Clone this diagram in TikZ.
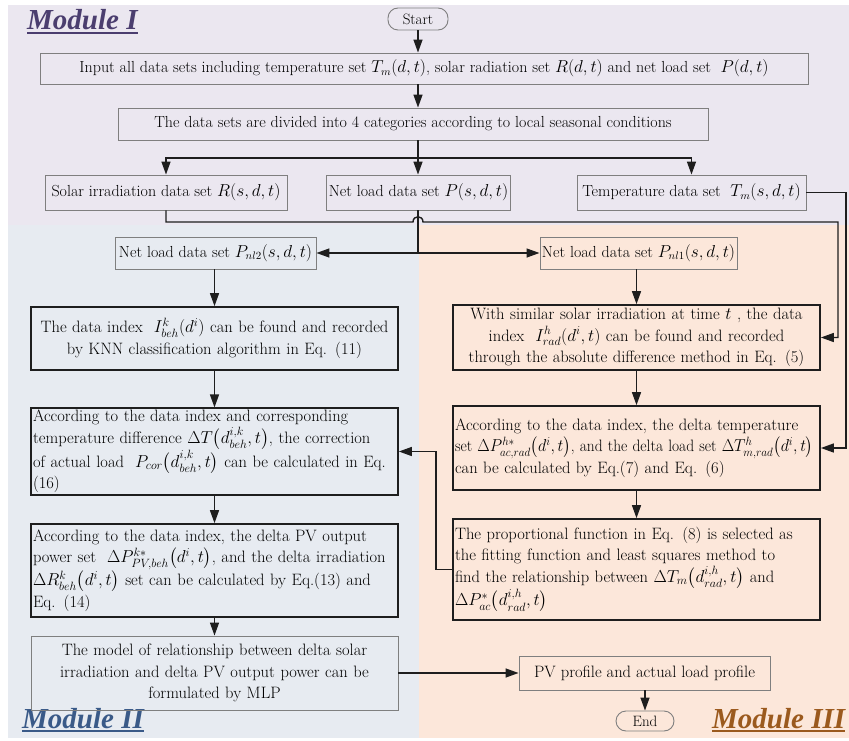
\documentclass[tikz,border=0pt]{standalone}
\usepackage{fontspec}
\usepackage{amsmath}
\usepackage{graphicx}
\newfontfamily\modfont{Liberation Serif}
\usetikzlibrary{arrows.meta}
\definecolor{bgI}{HTML}{EBE7F0}
\definecolor{bgII}{HTML}{E7EBF1}
\definecolor{bgIII}{HTML}{FCE7DA}
\definecolor{colI}{HTML}{4B3E6F}
\definecolor{colII}{HTML}{3A5A88}
\definecolor{colIII}{HTML}{9B5A1E}
\definecolor{thinc}{HTML}{7F7F7F}
\definecolor{linec}{HTML}{1E1E1E}
\begin{document}
\begin{tikzpicture}[x=1pt,y=-1pt,
  thinbox/.style={draw=thinc, line width=0.9pt, inner sep=2pt, align=center, font=\fontsize{16}{19}\selectfont},
  bigthin/.style={draw=thinc, line width=0.9pt, inner sep=2pt, font=\fontsize{16.5}{21.5}\selectfont},
  thickbox/.style={draw=linec, line width=1.7pt, inner sep=2pt, font=\fontsize{16.5}{21.5}\selectfont},
  ovalbox/.style={draw=thinc, line width=0.9pt, rounded corners=10pt, inner sep=1pt, font=\fontsize{15}{17}\selectfont},
  conn/.style={draw=linec, line width=1.4pt},
  arr/.style={conn, -{Triangle[length=13pt,width=9pt]}},
  modlabel/.style={inner sep=0pt, font=\modfont\bfseries\itshape\fontsize{29}{32}\selectfont}]
\useasboundingbox (0,0) rectangle (849,741);
\fill[white] (0,0) rectangle (849,741);
\fill[bgI] (8,5) rectangle (849,225);
\fill[bgII] (8,225) rectangle (419,738);
\fill[bgIII] (419,225) rectangle (849,738);

% module labels
\node[modlabel, text=colI, anchor=base west] (m1) at (27,30) {Module I};
\draw[colI, line width=2pt] ([yshift=-3pt]m1.base west) -- ([yshift=-3pt]m1.base east);
\node[modlabel, text=colII, anchor=base west] (m2) at (22,728) {Module II};
\draw[colII, line width=2pt] ([yshift=-3pt]m2.base west) -- ([yshift=-3pt]m2.base east);
\node[modlabel, text=colIII, anchor=base west] (m3) at (712,728) {Module III};
\draw[colIII, line width=2pt] ([yshift=-3pt]m3.base west) -- ([yshift=-3pt]m3.base east);

% Module I
\node[ovalbox, minimum width=60pt, minimum height=22pt] (start) at (418,19) {Start};
\node[thinbox, minimum width=768pt, minimum height=31pt] (input) at (424,68.5)
  {Input all data sets including temperature set $T_m(d,t)$, solar radiation set $R(d,t)$ and net load set \ $P(d,t)$};
\node[thinbox, minimum width=590pt, minimum height=32pt] (divide) at (413,124)
  {The data sets are divided into 4 categories according to local seasonal conditions};
\node[thinbox, minimum width=242pt, minimum height=35pt] (solar) at (166,192.5)
  {Solar irradiation data set $R(s,d,t)$};
\node[thinbox, minimum width=183pt, minimum height=35pt] (netp) at (418.5,192.5)
  {Net load data set $P(s,d,t)$};
\node[thinbox, minimum width=229pt, minimum height=35pt] (temp) at (691.5,192.5)
  {Temperature data set \ $T_m(s,d,t)$};
\node[thinbox, minimum width=201pt, minimum height=32pt] (pnl2) at (215.5,253)
  {Net load data set $P_{nl2}(s,d,t)$};
\node[thinbox, minimum width=195pt, minimum height=32pt] (pnl1) at (638.5,253)
  {Net load data set $P_{nl1}(s,d,t)$};

% Module II
\node[thickbox, minimum width=367pt, minimum height=63pt, text width=363pt, align=center] (knn) at (214.5,338.5)
  {The data index \ $I_{beh}^{k}(d^{i})$ can be found and recorded\\ by KNN classification algorithm in Eq. (11)};
\node[thickbox, minimum width=367pt, minimum height=79pt, text width=363pt, align=left] (dt) at (214.5,451.5)
  {According to the data index and corresponding\\ temperature difference $\Delta T\bigl(d_{beh}^{i,k},t\bigr)$, the correction\\ of actual load \ $P_{cor}\bigl(d_{beh}^{i,k},t\bigr)$ can be calculated in Eq.\\ (16)};
\node[thickbox, minimum width=367pt, minimum height=93pt, text width=363pt, align=left] (dpv) at (214.5,570.5)
  {According to the data index, the delta PV output\\ power set \ $\Delta P_{PV,beh}^{k*}\bigl(d^{i},t\bigr)$, and the delta irradiation\\ $\Delta R_{beh}^{k}\bigl(d^{i},t\bigr)$ set can be calculated by Eq.(13) and\\ Eq. (14)};
\node[bigthin, minimum width=367pt, minimum height=74pt, text width=363pt, align=center] (mlp) at (214.5,673)
  {The model of relationship between delta solar\\ irradiation and delta PV output power can be\\ formulated by MLP};

% Module III
\node[thickbox, minimum width=367pt, minimum height=65pt, text width=363pt, align=center] (sim) at (636.5,337.5)
  {With similar solar irradiation at time $t$ , the data\\ index \ $I_{rad}^{h}(d^{i},t)$ can be found and recorded\\ through the absolute difference method in Eq. (5)};
\node[thickbox, minimum width=367pt, minimum height=84pt, text width=363pt, align=left] (dtemp) at (636.5,448)
  {According to the data index, the delta temperature\\ \scalebox{0.935}[1]{set $\Delta P_{ac,rad}^{h*}\bigl(d^{i},t\bigr)$, and the delta load set $\Delta T_{m,rad}^{h}\bigl(d^{i},t\bigr)$}\\ can be calculated by Eq.(7) and Eq. (6)};
\node[thickbox, minimum width=367pt, minimum height=101pt, text width=363pt, align=left] (prop) at (636.5,569.5)
  {The proportional function in Eq. (8) is selected as\\ the fitting function and least squares method to\\ find the relationship between $\Delta T_{m}\bigl(d_{rad}^{i,h},t\bigr)$ and\\ $\Delta P_{ac}^{*}\bigl(d_{rad}^{i,h},t\bigr)$};
\node[bigthin, minimum width=251pt, minimum height=34pt, align=center] (pv) at (644.5,673)
  {PV profile and actual load profile};
\node[ovalbox, minimum width=58pt, minimum height=20pt] (end) at (645,721) {End};

% connectors
\coordinate (s1) at (418,158);
\coordinate (s2) at (418,253);
\draw[arr] (start.south) -- (start.south |- input.north);
\draw[arr] (start.south |- input.south) -- (start.south |- divide.north);
\draw[conn] (start.south |- divide.south) -- (s1);
\draw[arr] (s1) -| (solar);
\draw[arr] (s1) -| (temp);
\draw[arr] (s1) -- (s1 |- netp.north);
\draw[arr] (solar.south) |- (413,222) .. controls (413,215) and (423,215) .. (423,222) -- (838,222) |- (sim.east);
\draw[arr] (temp.east) -- (846,192.5) |- (dtemp.east);
\draw[conn] (s1 |- netp.south) -- (s2);
\draw[arr] (s2) -- (pnl2.east);
\draw[arr] (s2) -- (pnl1.west);
\draw[arr] (pnl2.south -| knn) -- (knn.north);
\draw[arr] (knn) -- (dt);
\draw[arr] (dt) -- (dpv);
\draw[arr] (dpv) -- (mlp);
\draw[arr] (sim.north |- pnl1.south) -- (sim.north);
\draw[arr] (sim) -- (dtemp);
\draw[arr] (dtemp) -- (prop);
\draw[arr] (prop.west) -- (436,569.5) |- (dt.east);
\draw[arr] (mlp.east) -- (pv.west);
\draw[arr] (pv.south -| end) -- (end.north);
\end{tikzpicture}
\end{document}
